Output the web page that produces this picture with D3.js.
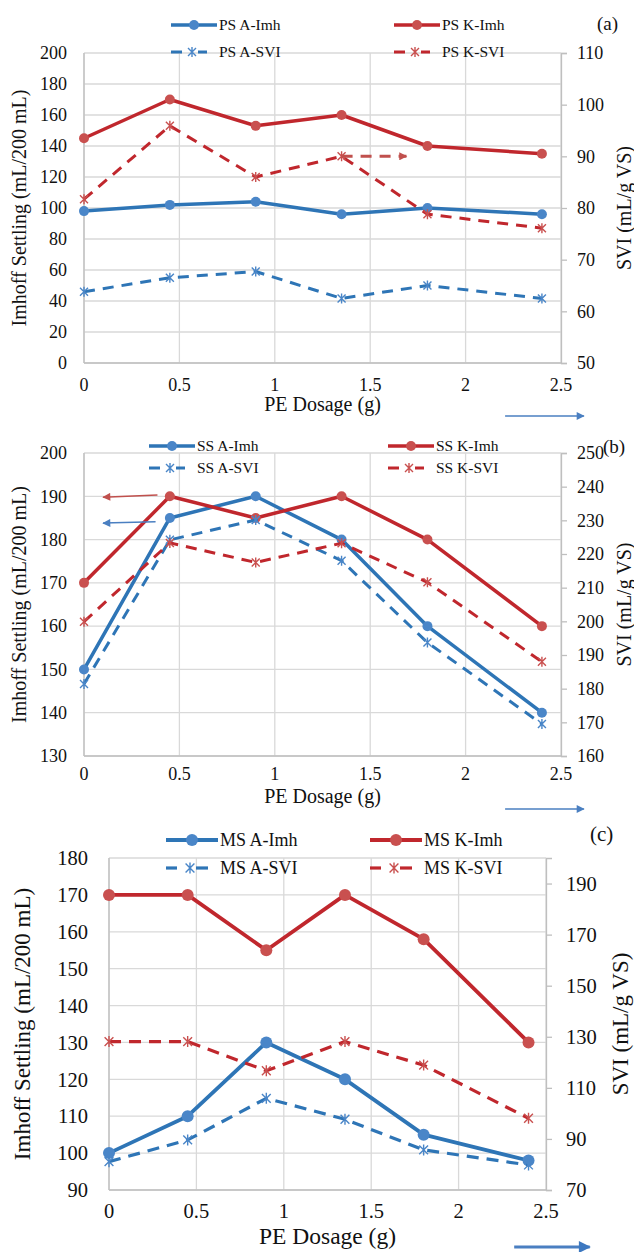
<!DOCTYPE html>
<html>
<head>
<meta charset="utf-8">
<script src="https://cdn.jsdelivr.net/npm/d3@7"></script>
<style>
  body { margin: 0; background: #fff; }
  svg { display: block; font-family: "Liberation Serif", "Times New Roman", serif; }
</style>
</head>
<body>
<svg id="chart" width="634" height="1252"></svg>
<script>
// x values (PE dosage, g) shared by all panels
const dosage = [0, 0.45, 0.9, 1.35, 1.8, 2.4];
const xTicks = [0, 0.5, 1, 1.5, 2, 2.5];

// (a) primary sludge
const psAImh = [98, 102, 104, 96, 100, 96];
const psKImh = [145, 170, 153, 160, 140, 135];
const psASVI = [63.8, 66.5, 67.7, 62.5, 65, 62.5];
const psKSVI = [81.7, 95.9, 86, 90, 78.8, 76.1];
const psLeftTicks = [0, 20, 40, 60, 80, 100, 120, 140, 160, 180, 200];
const psRightTicks = [50, 60, 70, 80, 90, 100, 110];

// (b) secondary sludge
const ssAImh = [150, 185, 190, 180, 160, 140];
const ssKImh = [170, 190, 185, 190, 180, 160];
const ssASVI = [181.4, 224.2, 230.1, 218, 193.7, 169.5];
const ssKSVI = [199.9, 223.3, 217.5, 223.2, 211.6, 188];
const ssLeftTicks = [130, 140, 150, 160, 170, 180, 190, 200];
const ssRightTicks = [160, 170, 180, 190, 200, 210, 220, 230, 240, 250];

// (c) mixed sludge
const msAImh = [100, 110, 130, 120, 105, 98];
const msKImh = [170, 170, 155, 170, 158, 130];
const msASVI = [81.1, 89.6, 105.9, 97.7, 85.7, 79.8];
const msKSVI = [128.1, 128.1, 116.7, 128.1, 118.9, 98.1];
const msLeftTicks = [90, 100, 110, 120, 130, 140, 150, 160, 170, 180];
const msRightTicks = [70, 90, 110, 130, 150, 170, 190];

const blueLine = "#2e75b6", blueMark = "#4a86c8";
const redLine = "#c0272d", redMark = "#c9504f";

const svg = d3.select("#chart");
svg.append("rect").attr("width", 634).attr("height", 1252).attr("fill", "#fff");

const defs = svg.append("defs");
function arrowMarker(id, color, w, h) {
    defs.append("marker")
        .attr("id", id)
        .attr("viewBox", "0 0 10 10")
        .attr("refX", 9).attr("refY", 5)
        .attr("markerWidth", w).attr("markerHeight", h)
        .attr("markerUnits", "userSpaceOnUse")
        .attr("orient", "auto")
        .append("path")
        .attr("d", "M0,0 L10,5 L0,10 Z")
        .attr("fill", color);
}
arrowMarker("arBlue", "#4a7fc1", 11, 8);
arrowMarker("arBlueBig", "#3d78c0", 16, 12);
arrowMarker("arRed", "#c0504d", 11, 8);

function starPath(x, y, r) {
    const d = r * 0.8;
    return "M" + x + "," + (y - r) + "L" + x + "," + (y + r) +
        "M" + (x - d) + "," + (y - d) + "L" + (x + d) + "," + (y + d) +
        "M" + (x - d) + "," + (y + d) + "L" + (x + d) + "," + (y - d);
}

function drawPanel(cfg) {
    const g = svg.append("g");
    const x = d3.scaleLinear().domain([0, 2.5]).range([cfg.left, cfg.right]);
    const yL = d3.scaleLinear().domain(cfg.leftDomain).range([cfg.bottom, cfg.top]);
    const yR = d3.scaleLinear().domain(cfg.rightDomain).range([cfg.bottom, cfg.top]);

    // gridlines
    g.append("g").selectAll("line").data(cfg.leftTicks).enter().append("line")
        .attr("x1", cfg.left).attr("x2", cfg.right)
        .attr("y1", d => yL(d)).attr("y2", d => yL(d))
        .attr("stroke", "#d9d9d9").attr("stroke-width", 1.3);
    g.append("g").selectAll("line").data(xTicks).enter().append("line")
        .attr("x1", d => x(d)).attr("x2", d => x(d))
        .attr("y1", cfg.top).attr("y2", cfg.bottom)
        .attr("stroke", "#d9d9d9").attr("stroke-width", 1.3);

    // axis lines
    g.append("line").attr("x1", cfg.left).attr("x2", cfg.left)
        .attr("y1", cfg.top).attr("y2", cfg.bottom).attr("stroke", "#bfbfbf").attr("stroke-width", 1.3);
    g.append("line").attr("x1", cfg.left).attr("x2", cfg.right)
        .attr("y1", cfg.bottom).attr("y2", cfg.bottom).attr("stroke", "#bfbfbf").attr("stroke-width", 1.3);

    // right axis with outside ticks
    const rAxis = g.append("g")
        .attr("transform", "translate(" + cfg.right + ",0)")
        .call(d3.axisRight(yR).tickValues(cfg.rightTicks).tickSize(6).tickPadding(cfg.rPad))
        .attr("font-family", "Liberation Serif");
    rAxis.select(".domain").attr("stroke", "#bfbfbf").attr("stroke-width", 1.3);
    rAxis.selectAll(".tick line").attr("stroke", "#bfbfbf").attr("stroke-width", 1.3);
    rAxis.selectAll("text").attr("font-size", cfg.tickSize).attr("fill", "#111");

    // left tick labels
    g.append("g").selectAll("text").data(cfg.leftTicks).enter().append("text")
        .attr("x", cfg.left - cfg.lPad).attr("y", d => yL(d))
        .attr("dy", "0.35em").attr("text-anchor", "end")
        .attr("font-size", cfg.tickSize).attr("fill", "#111")
        .text(d => d);

    // bottom tick labels
    g.append("g").selectAll("text").data(xTicks).enter().append("text")
        .attr("x", d => x(d)).attr("y", cfg.xLabelY)
        .attr("text-anchor", "middle")
        .attr("font-size", cfg.tickSize).attr("fill", "#111")
        .text(d => d);

    // axis titles
    g.append("text").attr("x", (cfg.left + cfg.right) / 2).attr("y", cfg.xTitleY)
        .attr("text-anchor", "middle").attr("font-size", cfg.xTitleSize).attr("fill", "#111")
        .text("PE Dosage (g)");
    const midY = (cfg.top + cfg.bottom) / 2;
    g.append("text")
        .attr("transform", "translate(" + cfg.yTitleLX + "," + midY + ") rotate(-90)")
        .attr("text-anchor", "middle").attr("font-size", cfg.yTitleSize).attr("fill", "#111")
        .text("Imhoff Settling (mL/200 mL)");
    g.append("text")
        .attr("transform", "translate(" + cfg.yTitleRX + "," + midY + ") rotate(-90)")
        .attr("text-anchor", "middle").attr("font-size", cfg.yTitleSize).attr("fill", "#111")
        .text("SVI (mL/g VS)");

    // series
    const series = [
        { vals: cfg.aImh, scale: yL, line: blueLine, mark: blueMark, dash: null },
        { vals: cfg.kImh, scale: yL, line: redLine, mark: redMark, dash: null },
        { vals: cfg.aSVI, scale: yR, line: blueLine, mark: blueMark, dash: cfg.dash },
        { vals: cfg.kSVI, scale: yR, line: redLine, mark: redMark, dash: cfg.dash }
    ];
    series.forEach(function (s) {
        const line = d3.line().x((d, i) => x(dosage[i])).y(d => s.scale(d));
        g.append("path").datum(s.vals)
            .attr("d", line)
            .attr("fill", "none")
            .attr("stroke", s.line)
            .attr("stroke-width", s.dash ? cfg.dashWidth : cfg.lineWidth)
            .attr("stroke-dasharray", s.dash)
            .attr("stroke-linejoin", "round");
        if (s.dash) {
            g.append("g").selectAll("path").data(s.vals).enter().append("path")
                .attr("d", (d, i) => starPath(x(dosage[i]), s.scale(d), cfg.starR))
                .attr("stroke", s.mark).attr("stroke-width", 1.4).attr("fill", "none");
        } else {
            g.append("g").selectAll("circle").data(s.vals).enter().append("circle")
                .attr("cx", (d, i) => x(dosage[i])).attr("cy", d => s.scale(d))
                .attr("r", cfg.dotR).attr("fill", s.mark);
        }
    });

    // legend (2 x 2)
    const legItems = [
        { name: cfg.prefix + " A-Imh", col: 0, row: 0, line: blueLine, mark: blueMark, dash: false },
        { name: cfg.prefix + " K-Imh", col: 1, row: 0, line: redLine, mark: redMark, dash: false },
        { name: cfg.prefix + " A-SVI", col: 0, row: 1, line: blueLine, mark: blueMark, dash: true },
        { name: cfg.prefix + " K-SVI", col: 1, row: 1, line: redLine, mark: redMark, dash: true }
    ];
    legItems.forEach(function (it) {
        const lx = cfg.legX[it.col], ly = cfg.legY[it.row];
        const cx = lx + cfg.legLen / 2;
        if (it.dash) {
            g.append("line").attr("x1", lx).attr("x2", lx + 11).attr("y1", ly).attr("y2", ly)
                .attr("stroke", it.line).attr("stroke-width", cfg.dashWidth);
            g.append("line").attr("x1", cx + 4).attr("x2", lx + cfg.legLen - 10).attr("y1", ly).attr("y2", ly)
                .attr("stroke", it.line).attr("stroke-width", cfg.dashWidth);
            g.append("path").attr("d", starPath(cx - 2, ly, cfg.starR))
                .attr("stroke", it.mark).attr("stroke-width", 1.4).attr("fill", "none");
        } else {
            g.append("line").attr("x1", lx).attr("x2", lx + cfg.legLen).attr("y1", ly).attr("y2", ly)
                .attr("stroke", it.line).attr("stroke-width", cfg.lineWidth);
            g.append("circle").attr("cx", cx).attr("cy", ly).attr("r", cfg.dotR).attr("fill", it.mark);
        }
        g.append("text").attr("x", lx + cfg.legLen + cfg.legGap).attr("y", ly).attr("dy", "0.35em")
            .attr("font-size", cfg.legSize).attr("fill", "#111")
            .text(it.name);
    });

    // panel label
    g.append("text").attr("x", cfg.labelX).attr("y", cfg.labelY).attr("dy", "0.35em")
        .attr("font-size", cfg.labelSize).attr("fill", "#111").text(cfg.label);

    // arrow below the x axis pointing right
    g.append("line")
        .attr("x1", x(cfg.arrowX[0])).attr("x2", x(cfg.arrowX[1]))
        .attr("y1", cfg.arrowY).attr("y2", cfg.arrowY)
        .attr("stroke", "#4a7fc1").attr("stroke-width", cfg.arrowW)
        .attr("marker-end", cfg.arrowW > 2 ? "url(#arBlueBig)" : "url(#arBlue)");

    return { g: g, x: x, yL: yL, yR: yR };
}

// (a)
const pa = drawPanel({
    prefix: "PS", label: "(a)",
    left: 84, right: 561, top: 53, bottom: 363,
    leftDomain: [0, 200], rightDomain: [50, 110],
    leftTicks: psLeftTicks, rightTicks: psRightTicks,
    aImh: psAImh, kImh: psKImh, aSVI: psASVI, kSVI: psKSVI,
    tickSize: 18, lPad: 17, rPad: 10, xLabelY: 391,
    xTitleY: 411, xTitleSize: 20, yTitleSize: 20, yTitleLX: 26, yTitleRX: 631,
    lineWidth: 3.5, dashWidth: 3, dash: "11,8", dotR: 5, starR: 5,
    legX: [171, 394], legY: [25, 52], legLen: 46, legGap: 2, legSize: 15.5,
    labelX: 597, labelY: 23, labelSize: 19,
    arrowX: [2.207, 2.62], arrowY: 416, arrowW: 1.5
});
// red dashed arrow pointing to the right axis
pa.g.append("line")
    .attr("x1", pa.x(1.35)).attr("x2", pa.x(1.69))
    .attr("y1", pa.yR(90)).attr("y2", pa.yR(90))
    .attr("stroke", "#c0504d").attr("stroke-width", 3).attr("stroke-dasharray", "11,8")
    .attr("marker-end", "url(#arRed)");

// (b)
const pb = drawPanel({
    prefix: "SS", label: "(b)",
    left: 84, right: 561, top: 453, bottom: 756,
    leftDomain: [130, 200], rightDomain: [160, 250],
    leftTicks: ssLeftTicks, rightTicks: ssRightTicks,
    aImh: ssAImh, kImh: ssKImh, aSVI: ssASVI, kSVI: ssKSVI,
    tickSize: 18, lPad: 17, rPad: 10, xLabelY: 780,
    xTitleY: 803, xTitleSize: 20, yTitleSize: 20, yTitleLX: 26, yTitleRX: 631,
    lineWidth: 3.5, dashWidth: 3, dash: "11,8", dotR: 5, starR: 5,
    legX: [149, 388], legY: [446, 468], legLen: 46, legGap: 2, legSize: 15.5,
    labelX: 603, labelY: 446, labelSize: 19,
    arrowX: [2.207, 2.62], arrowY: 809, arrowW: 1.5
});
// arrows pointing to the left axis
pb.g.append("line")
    .attr("x1", pb.x(0.385)).attr("x2", pb.x(0.1))
    .attr("y1", pb.yL(190.3)).attr("y2", pb.yL(189.8))
    .attr("stroke", "#c0504d").attr("stroke-width", 1.5).attr("marker-end", "url(#arRed)");
pb.g.append("line")
    .attr("x1", pb.x(0.375)).attr("x2", pb.x(0.1))
    .attr("y1", pb.yL(184.1)).attr("y2", pb.yL(183.8))
    .attr("stroke", "#4a7fc1").attr("stroke-width", 1.5).attr("marker-end", "url(#arBlue)");

// (c)
drawPanel({
    prefix: "MS", label: "(c)",
    left: 109, right: 546, top: 858, bottom: 1190,
    leftDomain: [90, 180], rightDomain: [70, 200],
    leftTicks: msLeftTicks, rightTicks: msRightTicks,
    aImh: msAImh, kImh: msKImh, aSVI: msASVI, kSVI: msKSVI,
    tickSize: 20.5, lPad: 21, rPad: 14, xLabelY: 1218,
    xTitleY: 1244, xTitleSize: 23.5, yTitleSize: 23, yTitleLX: 30, yTitleRX: 628,
    lineWidth: 3.8, dashWidth: 3.2, dash: "12,8", dotR: 6, starR: 5.5,
    legX: [166, 370], legY: [840, 868], legLen: 52, legGap: 2, legSize: 18,
    labelX: 590, labelY: 834, labelSize: 21,
    arrowX: [2.318, 2.75], arrowY: 1247, arrowW: 3
});
</script>
</body>
</html>
